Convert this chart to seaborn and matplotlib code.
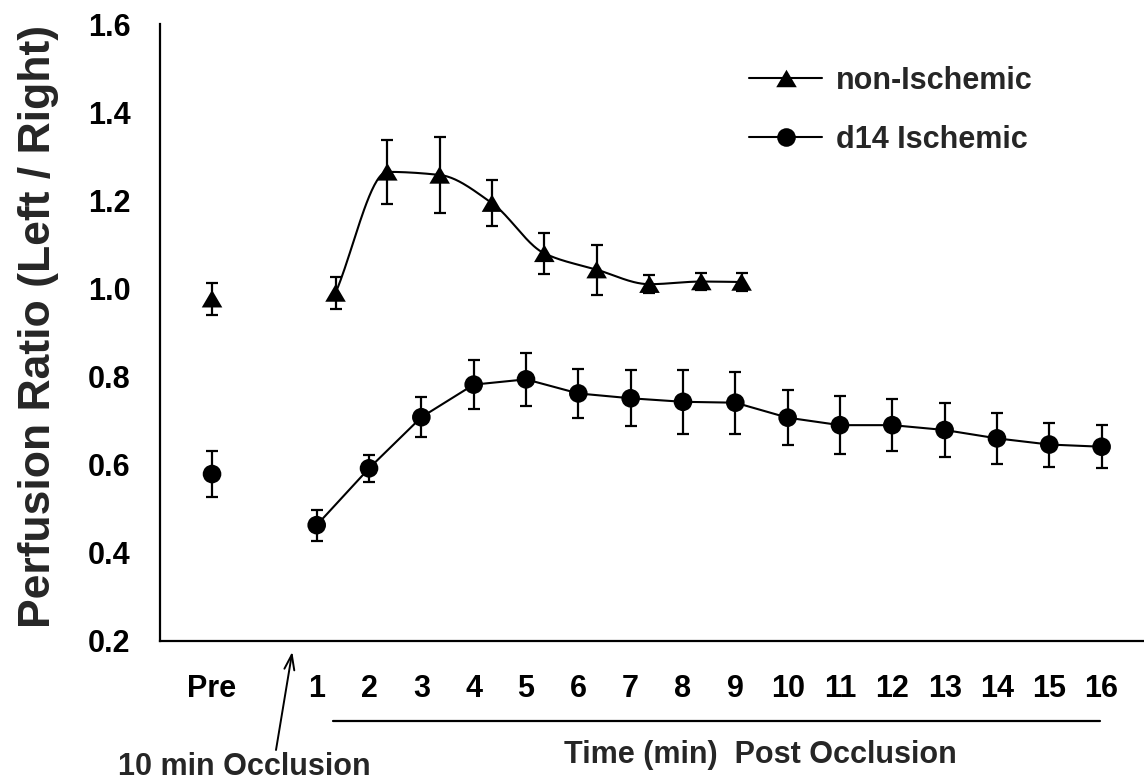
import numpy as np
import pandas as pd
import matplotlib
matplotlib.use("Agg")
import matplotlib.pyplot as plt
import seaborn as sns
from matplotlib.lines import Line2D

# ---------------- data ----------------
tick_labels = ["Pre"] + [str(m) for m in range(1, 17)]
tick_values = [-1] + list(range(1, 17))

pre_x = -1.0
isch_pre_mean = 0.579
isch_pre_sem = 0.052
isch_time = list(range(1, 17))
isch_mean = [0.463, 0.592, 0.708, 0.782, 0.794, 0.762, 0.751, 0.743,
             0.741, 0.707, 0.690, 0.690, 0.679, 0.660, 0.646, 0.641]
isch_sem = [0.035, 0.031, 0.045, 0.055, 0.060, 0.055, 0.064, 0.072,
            0.070, 0.062, 0.066, 0.059, 0.062, 0.058, 0.050, 0.049]

non_pre_mean = 0.977
non_pre_sem = 0.036
non_time = [1.36, 2.35, 3.35, 4.35, 5.35, 6.35, 7.36, 8.35, 9.12]
non_mean = [0.990, 1.265, 1.258, 1.194, 1.080, 1.043, 1.010, 1.016, 1.015]
non_sem = [0.036, 0.073, 0.087, 0.052, 0.047, 0.057, 0.021, 0.019, 0.021]

y_ticks = [0.2, 0.4, 0.6, 0.8, 1.0, 1.2, 1.4, 1.6]

# ---------------- style ----------------
sns.set_theme(style="white")
plt.rcParams["font.family"] = ["Liberation Sans", "DejaVu Sans"]
plt.rcParams["font.weight"] = "bold"
FS = 22

W, H = 1144, 781
fig = plt.figure(figsize=(W / 100, H / 100), dpi=100)
fig.patch.set_facecolor("white")
ax = fig.add_axes([159.5 / W, (H - 641) / H, (W - 159.5) / W, (641 - 24.3) / H])
ax.set_facecolor("white")


def pchip_curve(x, y, n=40):
    """Monotone (Fritsch-Carlson) cubic drawn through the data points."""
    x = np.asarray(x, float)
    y = np.asarray(y, float)
    h = np.diff(x)
    d = np.diff(y) / h
    m = np.zeros_like(y)
    for k in range(1, len(x) - 1):
        if d[k - 1] * d[k] > 0:
            w1 = 2 * h[k] + h[k - 1]
            w2 = h[k] + 2 * h[k - 1]
            m[k] = (w1 + w2) / (w1 / d[k - 1] + w2 / d[k])
    m[0] = d[0]
    m[-1] = d[-1]
    xs, ys = [], []
    for i in range(len(x) - 1):
        t = np.linspace(0, 1, n, endpoint=(i == len(x) - 2))
        h00 = 2 * t**3 - 3 * t**2 + 1
        h10 = t**3 - 2 * t**2 + t
        h01 = -2 * t**3 + 3 * t**2
        h11 = t**3 - t**2
        xs.append(x[i] + t * h[i])
        ys.append(h00 * y[i] + h10 * h[i] * m[i] + h01 * y[i + 1] + h11 * h[i] * m[i + 1])
    return np.concatenate(xs), np.concatenate(ys)


tri_marker = [(-1, -0.85), (1, -0.85), (0, 0.85), (-1, -0.85)]
TRI_MS = 14.8
CIR_MS = 13.4

isch_df = pd.DataFrame({"time": isch_time, "ratio": isch_mean})
non_df = pd.DataFrame({"time": non_time, "ratio": non_mean})

# lines
sns.lineplot(data=isch_df, x="time", y="ratio", color="black", lw=1.5,
             ax=ax, estimator=None, sort=False, legend=False, zorder=2)
sx, sy = pchip_curve(non_time, non_mean)
sns.lineplot(x=sx, y=sy, color="black", lw=1.5, ax=ax, estimator=None,
             sort=False, legend=False, zorder=2)

# error bars
ebk = dict(fmt="none", ecolor="black", elinewidth=1.6, capsize=4.5, capthick=1.6, zorder=3)
ax.errorbar(isch_time, isch_mean, yerr=isch_sem, **ebk)
ax.errorbar([pre_x], [isch_pre_mean], yerr=[isch_pre_sem], **ebk)
ax.errorbar(non_time, non_mean, yerr=non_sem, **ebk)
ax.errorbar([pre_x], [non_pre_mean], yerr=[non_pre_sem], **ebk)

# markers
sns.scatterplot(data=isch_df, x="time", y="ratio", marker="o", s=CIR_MS**2,
                color="black", edgecolor="none", ax=ax, zorder=4, legend=False)
sns.scatterplot(x=[pre_x], y=[isch_pre_mean], marker="o", s=CIR_MS**2,
                color="black", edgecolor="none", ax=ax, zorder=4, legend=False)
sns.scatterplot(data=non_df, x="time", y="ratio", marker=tri_marker, s=TRI_MS**2,
                color="black", edgecolor="none", ax=ax, zorder=4, legend=False)
sns.scatterplot(x=[pre_x], y=[non_pre_mean], marker=tri_marker, s=TRI_MS**2,
                color="black", edgecolor="none", ax=ax, zorder=4, legend=False)

# axes
ax.set_xlim(-2.004, 16.81)
ax.set_ylim(0.2, 1.6)
for s in ["top", "right"]:
    ax.spines[s].set_visible(False)
for s in ["left", "bottom"]:
    ax.spines[s].set_linewidth(1.6)
    ax.spines[s].set_color("black")
ax.set_xticks(tick_values)
ax.set_xticklabels(tick_labels)
ax.set_yticks(y_ticks)
ax.set_yticklabels([f"{v:.1f}" for v in y_ticks])
ax.tick_params(axis="x", direction="out", length=7, width=1.5, pad=17,
               labelsize=FS, colors="black")
ax.tick_params(axis="y", direction="out", length=6, width=1.5, pad=15,
               labelsize=FS, colors="black")
for lab in ax.get_xticklabels() + ax.get_yticklabels():
    lab.set_fontweight("bold")
ax.set_xlabel("")
ax.set_ylabel("")

fig.text(39 / W, 1 - 326 / H, "Perfusion Ratio (Left / Right)", rotation=90,
         ha="center", va="center", fontsize=32, fontweight="bold")

# legend
handles = [
    Line2D([0], [0], color="black", lw=1.5, marker=tri_marker, markersize=TRI_MS,
           markeredgewidth=0),
    Line2D([0], [0], color="black", lw=1.5, marker="o", markersize=CIR_MS,
           markeredgewidth=0),
]
leg = ax.legend(handles, ["non-Ischemic", "d14 Ischemic"], frameon=False,
                loc="upper left", bbox_to_anchor=(749 / W, 1 - 66 / H),
                bbox_transform=fig.transFigure, borderpad=0, borderaxespad=0,
                handlelength=2.4, handletextpad=0.45, labelspacing=0.95,
                prop={"size": FS, "weight": "bold"})

# annotations below the axis
fig.add_artist(Line2D([332.7 / W, 1100 / W], [1 - 721 / H, 1 - 721 / H],
                      color="black", lw=1.6, transform=fig.transFigure))
fig.text(760 / W, 1 - 755 / H, "Time (min)  Post Occlusion", ha="center",
         va="center", fontsize=FS, fontweight="bold")
fig.text(244 / W, 1 - 767 / H, "10 min Occlusion", ha="center", va="center",
         fontsize=FS, fontweight="bold")
ax.annotate("", xy=(292.3 / W, 1 - 651.7 / H), xycoords="figure fraction",
            xytext=(276 / W, 1 - 750 / H), textcoords="figure fraction",
            arrowprops=dict(arrowstyle="->,head_length=0.9,head_width=0.3",
                            color="black", lw=1.4, shrinkA=0, shrinkB=0),
            annotation_clip=False)

fig.savefig("out.png", dpi=100, facecolor="white")
